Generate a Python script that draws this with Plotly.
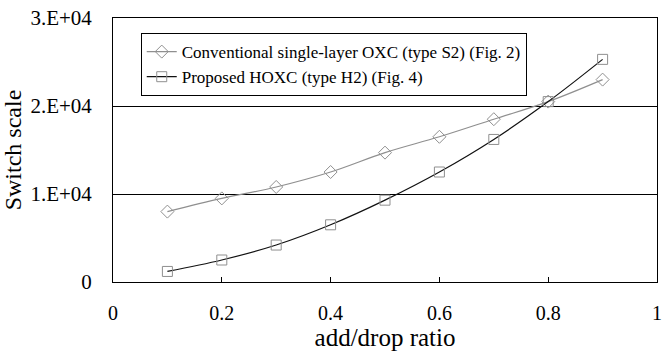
import plotly.graph_objects as go

x_ratio = [0.1, 0.2, 0.3, 0.4, 0.5, 0.6, 0.7, 0.8, 0.9]
conventional = [8000, 9500, 10800, 12500, 14700, 16500, 18500, 20500, 23000]
proposed = [1200, 2500, 4200, 6500, 9300, 12500, 16200, 20500, 25300]

name_conv = "Conventional single-layer OXC (type S2) (Fig. 2)"
name_prop = "Proposed HOXC (type H2) (Fig. 4)"

x_ticks = [0, 0.2, 0.4, 0.6, 0.8, 1]
x_ticktext = ["0", "0.2", "0.4", "0.6", "0.8", "1"]
y_ticks = [0, 10000, 20000, 30000]
y_ticktext = ["0", "1.E+04", "2.E+04", "3.E+04"]

font_family = "Liberation Serif"

fig = go.Figure()
fig.add_trace(go.Scatter(
    x=x_ratio, y=conventional, name=name_conv, mode="lines+markers",
    line=dict(color="#8f8f8f", width=1.2, shape="spline"),
    marker=dict(symbol="diamond-open", size=10, color="#8f8f8f", line=dict(width=1)),
))
fig.add_trace(go.Scatter(
    x=x_ratio, y=proposed, name=name_prop, mode="lines+markers",
    line=dict(color="#111111", width=1.2, shape="spline"),
    marker=dict(symbol="square-open", size=10, color="#8f8f8f", line=dict(width=1)),
))

fig.update_layout(
    width=663, height=351,
    margin=dict(l=113, r=6, t=18, b=69, autoexpand=False),
    paper_bgcolor="white", plot_bgcolor="white",
    font=dict(family=font_family, color="black", size=20),
    showlegend=True,
    legend=dict(
        x=0.051, y=0.943, xanchor="left", yanchor="top",
        bgcolor="white", bordercolor="black", borderwidth=1,
        font=dict(family=font_family, size=17, color="black"),
        itemwidth=30, tracegroupgap=0,
    ),
    xaxis=dict(
        range=[0, 1], tickvals=x_ticks, ticktext=x_ticktext,
        showgrid=False, zeroline=False, automargin=False,
        showline=True, linecolor="black", linewidth=1, mirror=True,
        ticks="inside", ticklen=5, tickcolor="black",
        ticklabelstandoff=13, ticklabeloverflow="allow",
        tickfont=dict(size=20),
        title=dict(text="add/drop ratio", font=dict(size=25), standoff=4),
    ),
    yaxis=dict(
        range=[0, 30000], tickvals=y_ticks, ticktext=y_ticktext,
        showgrid=True, gridcolor="black", gridwidth=1, zeroline=False,
        automargin=False,
        showline=True, linecolor="black", linewidth=1, mirror=True,
        ticks="", ticklabelstandoff=16, ticklabeloverflow="allow",
        tickfont=dict(size=21),
        title=dict(text="Switch scale", font=dict(size=24), standoff=1),
    ),
)

fig.write_html(
    "out.html",
    config={"displayModeBar": False},
    post_script="document.body.style.margin='0';document.body.style.padding='0';",
)
